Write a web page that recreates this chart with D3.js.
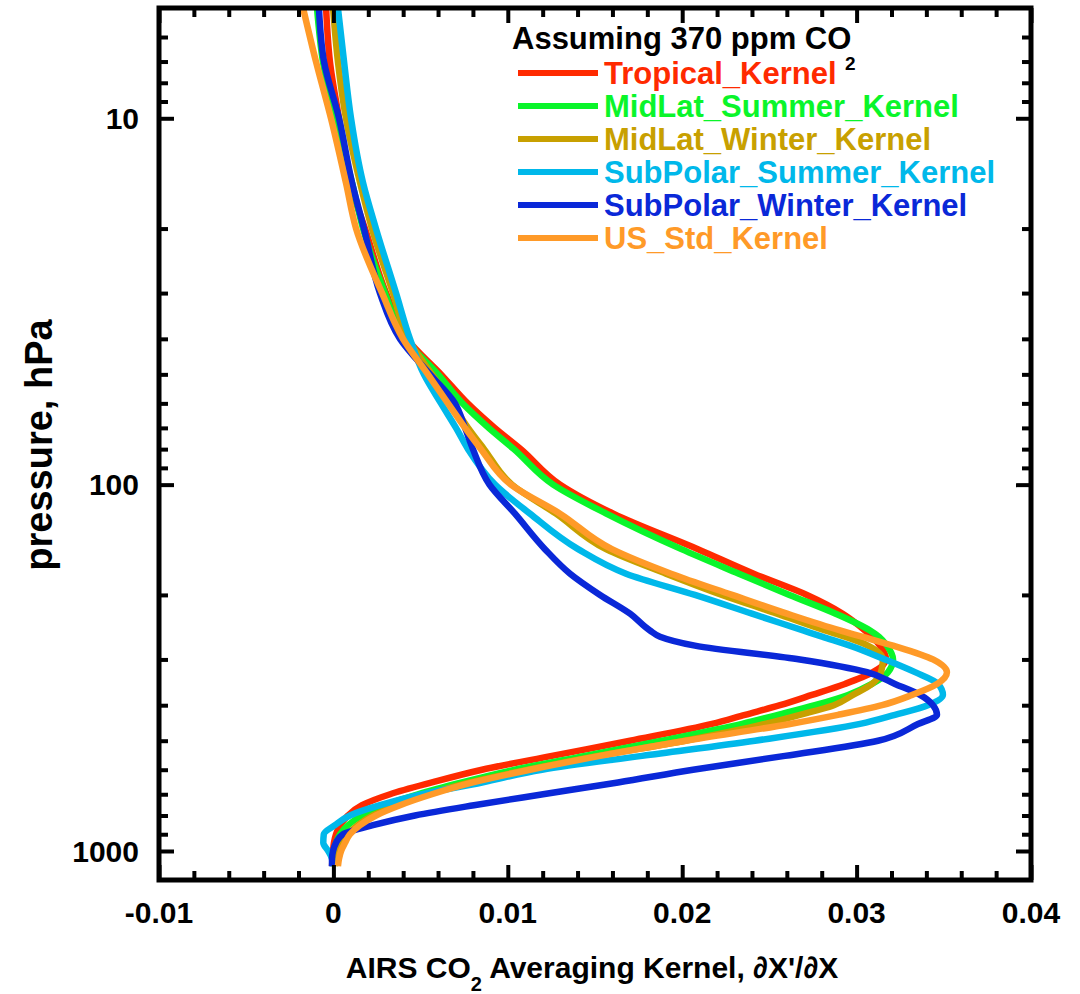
<!DOCTYPE html>
<html>
<head>
<meta charset="utf-8">
<script src="https://cdn.jsdelivr.net/npm/d3@7"></script>
<style>
  html, body { margin: 0; padding: 0; background: #fff; }
  svg text { font-family: "Liberation Sans", Arial, Helvetica, sans-serif; font-weight: bold; }
</style>
</head>
<body>
<svg id="chart"></svg>
<script>
// pressure levels (hPa) shared by all kernels
const pressure = [5, 7, 10, 15, 20, 30, 40, 50, 60, 70, 80, 100, 120, 150, 175, 200, 225, 250, 260, 275,
                  300, 325, 350, 375, 400, 425, 450, 500, 550, 600, 650, 700, 750, 800, 850, 900, 950, 1000, 1050, 1100];

const tropical = [-0.00042, -0.00020, 0.00032, 0.00095, 0.00181, 0.00302, 0.00422, 0.00617, 0.00770, 0.00925,
                  0.01075, 0.01300, 0.01605, 0.02090, 0.02410, 0.02715, 0.02920, 0.03048, 0.03088, 0.03134,
                  0.03169, 0.03094, 0.02933, 0.02744, 0.02561, 0.02360, 0.02171, 0.01701, 0.01253, 0.00852,
                  0.00565, 0.00325, 0.00164, 0.00084, 0.00038, 0.00015, 0.00003, -0.00002, -0.00005, -0.00008];
const midlatSummer = [-0.00094, -0.00060, 0.00009, 0.00107, 0.00170, 0.00296, 0.00411, 0.00600, 0.00740, 0.00890,
                     0.01035, 0.01260, 0.01565, 0.01995, 0.02325, 0.02615, 0.02880, 0.03077, 0.03128, 0.03174,
                     0.03209, 0.03180, 0.03088, 0.02951, 0.02761, 0.02549, 0.02343, 0.01884, 0.01443, 0.01041,
                     0.00737, 0.00485, 0.00296, 0.00164, 0.00084, 0.00038, 0.00015, 0.00003, -0.00002, -0.00002];
const midlatWinter = [-0.00002, 0.00026, 0.00072, 0.00153, 0.00221, 0.00342, 0.00428, 0.00565, 0.00680, 0.00772,
                      0.00864, 0.01024, 0.01276, 0.01563, 0.01907, 0.02228, 0.02544, 0.02819, 0.02933, 0.03065,
                      0.03151, 0.03140, 0.03088, 0.02979, 0.02870, 0.02675, 0.02475, 0.02016, 0.01517, 0.01116,
                      0.00783, 0.00542, 0.00365, 0.00227, 0.00141, 0.00084, 0.00049, 0.00026, 0.00015, 0.00009];
const subpolarSummer = [0.00026, 0.00061, 0.00101, 0.00170, 0.00244, 0.00359, 0.00439, 0.00519, 0.00617, 0.00703,
                        0.00772, 0.00927, 0.01127, 0.01403, 0.01678, 0.02073, 0.02400, 0.02693, 0.02802, 0.02962,
                        0.03163, 0.03335, 0.03467, 0.03495, 0.03409, 0.03220, 0.03020, 0.02417, 0.01770, 0.01196,
                        0.00852, 0.00508, 0.00267, 0.00095, 0.00009, -0.00055, -0.00058, -0.00030, -0.00008, -0.00003];
const subpolarWinter = [-0.00083, -0.00054, 0.00032, 0.00107, 0.00175, 0.00267, 0.00382, 0.00554, 0.00697, 0.00755,
                        0.00800, 0.00895, 0.01041, 0.01213, 0.01357, 0.01529, 0.01701, 0.01815, 0.01873, 0.02073,
                        0.02675, 0.03060, 0.03220, 0.03364, 0.03438, 0.03461, 0.03352, 0.03123, 0.02589, 0.02062,
                        0.01632, 0.01202, 0.00806, 0.00468, 0.00227, 0.00055, 0.00015, -0.00002, -0.00008, -0.00008];
const usStd = [-0.00174, -0.00100, -0.00014, 0.00072, 0.00130, 0.00279, 0.00399, 0.00542, 0.00657, 0.00755,
               0.00846, 0.01018, 0.01299, 0.01597, 0.01936, 0.02286, 0.02601, 0.02905, 0.03031, 0.03209,
               0.03438, 0.03518, 0.03461, 0.03318, 0.03146, 0.02893, 0.02618, 0.02022, 0.01529, 0.01127,
               0.00800, 0.00565, 0.00382, 0.00244, 0.00153, 0.00095, 0.00067, 0.00044, 0.00032, 0.00026];

const seriesNames = ['Tropical_Kernel', 'MidLat_Summer_Kernel', 'MidLat_Winter_Kernel',
                     'SubPolar_Summer_Kernel', 'SubPolar_Winter_Kernel', 'US_Std_Kernel'];
const seriesValues = [tropical, midlatSummer, midlatWinter, subpolarSummer, subpolarWinter, usStd];
const seriesColors = ['#ff2a00', '#0af52a', '#c8a000', '#00b8ea', '#0a28d8', '#ff9a28'];

const xTicks = [-0.01, 0, 0.01, 0.02, 0.03, 0.04];
const xTickLabels = ['-0.01', '0', '0.01', '0.02', '0.03', '0.04'];
const yTicks = [10, 100, 1000];
const yTickLabels = ['10', '100', '1000'];

const W = 1080, H = 994;
const plot = { left: 159, right: 1031, top: 8, bottom: 880 };

const svg = d3.select('#chart').attr('width', W).attr('height', H);

const x = d3.scaleLinear().domain([-0.01, 0.04]).range([plot.left, plot.right]);
const y = d3.scaleLog().domain([5, 1200]).range([plot.top, plot.bottom]);

svg.append('defs').append('clipPath').attr('id', 'plot-clip')
   .append('rect')
   .attr('x', plot.left).attr('y', plot.top)
   .attr('width', plot.right - plot.left).attr('height', plot.bottom - plot.top);

// curves
const line = d3.line()
               .x(d => x(d[1]))
               .y(d => y(d[0]))
               .curve(d3.curveMonotoneY);

const curves = svg.append('g').attr('clip-path', 'url(#plot-clip)');
seriesValues.forEach((vals, i) => {
  curves.append('path')
        .datum(pressure.map((p, j) => [p, vals[j]]))
        .attr('fill', 'none')
        .attr('stroke', seriesColors[i])
        .attr('stroke-width', 6.5)
        .attr('stroke-linejoin', 'round')
        .attr('d', line);
});

// minor ticks
const xMinor = d3.range(-0.01, 0.0401, 0.002).filter(v => Math.abs(Math.round(v * 100) - v * 100) > 1e-6);
const yMinor = [6, 7, 8, 9, 20, 30, 40, 50, 60, 70, 80, 90, 200, 300, 400, 500, 600, 700, 800, 900];

function tickFmt(g) {
  g.select('.domain').remove();
  g.selectAll('.tick line').attr('stroke', '#000').attr('stroke-width', 4);
  g.selectAll('.tick text').remove();
}

// bottom / top
svg.append('g').attr('transform', `translate(0,${plot.bottom})`)
   .call(d3.axisTop(x).tickValues(xTicks).tickSizeInner(15).tickSizeOuter(0)).call(tickFmt);
svg.append('g').attr('transform', `translate(0,${plot.bottom})`)
   .call(d3.axisTop(x).tickValues(xMinor).tickSizeInner(9).tickSizeOuter(0)).call(tickFmt);
svg.append('g').attr('transform', `translate(0,${plot.top})`)
   .call(d3.axisBottom(x).tickValues(xTicks).tickSizeInner(15).tickSizeOuter(0)).call(tickFmt);
svg.append('g').attr('transform', `translate(0,${plot.top})`)
   .call(d3.axisBottom(x).tickValues(xMinor).tickSizeInner(9).tickSizeOuter(0)).call(tickFmt);

// left / right
svg.append('g').attr('transform', `translate(${plot.left},0)`)
   .call(d3.axisRight(y).tickValues(yTicks).tickSizeInner(15).tickSizeOuter(0)).call(tickFmt);
svg.append('g').attr('transform', `translate(${plot.left},0)`)
   .call(d3.axisRight(y).tickValues(yMinor).tickSizeInner(9).tickSizeOuter(0)).call(tickFmt);
svg.append('g').attr('transform', `translate(${plot.right},0)`)
   .call(d3.axisLeft(y).tickValues(yTicks).tickSizeInner(15).tickSizeOuter(0)).call(tickFmt);
svg.append('g').attr('transform', `translate(${plot.right},0)`)
   .call(d3.axisLeft(y).tickValues(yMinor).tickSizeInner(9).tickSizeOuter(0)).call(tickFmt);

// frame
svg.append('rect')
   .attr('x', plot.left).attr('y', plot.top)
   .attr('width', plot.right - plot.left).attr('height', plot.bottom - plot.top)
   .attr('fill', 'none').attr('stroke', '#000').attr('stroke-width', 5);

// tick labels
svg.append('g').selectAll('text')
   .data(xTicks)
   .enter().append('text')
   .attr('x', d => x(d))
   .attr('y', plot.bottom + 43)
   .attr('text-anchor', 'middle')
   .style('font-size', '30px')
   .text((d, i) => xTickLabels[i]);

svg.append('g').selectAll('text')
   .data(yTicks)
   .enter().append('text')
   .attr('x', plot.left - 20)
   .attr('y', d => y(d))
   .attr('dy', '0.36em')
   .attr('text-anchor', 'end')
   .style('font-size', '30px')
   .text((d, i) => yTickLabels[i]);

// axis titles
const xt = svg.append('text')
   .attr('x', 592)
   .attr('y', 978)
   .attr('text-anchor', 'middle')
   .style('font-size', '30px');
xt.append('tspan').text('AIRS CO');
xt.append('tspan').attr('dy', 13).style('font-size', '20px').text('2');
xt.append('tspan').attr('dy', -13).text(' Averaging Kernel, \u2202X\'/\u2202X');

svg.append('text')
   .attr('transform', 'translate(52,445) rotate(-90)')
   .attr('text-anchor', 'middle')
   .style('font-size', '38px')
   .text('pressure, hPa');

// legend
const legend = svg.append('g');
legend.append('text')
      .attr('x', 512).attr('y', 49)
      .style('font-size', '31px')
      .text('Assuming 370 ppm CO');
legend.append('text')
      .attr('x', 845).attr('y', 70)
      .style('font-size', '19px')
      .text('2');

seriesNames.forEach((name, i) => {
  const ly = 73 + i * 33;
  legend.append('line')
        .attr('x1', 518).attr('x2', 598)
        .attr('y1', ly).attr('y2', ly)
        .attr('stroke', seriesColors[i])
        .attr('stroke-width', 6);
  legend.append('text')
        .attr('x', 604).attr('y', ly + 11)
        .attr('fill', seriesColors[i])
        .style('font-size', '31px')
        .text(name);
});
</script>
</body>
</html>
